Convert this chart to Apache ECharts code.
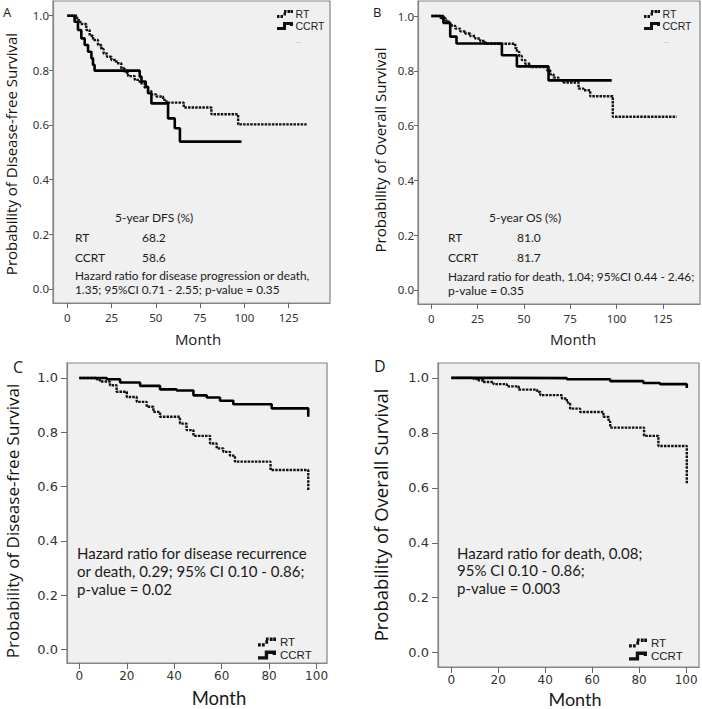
<!DOCTYPE html>
<html>
<head>
<meta charset="utf-8">
<script src="https://cdn.jsdelivr.net/npm/echarts@6/dist/echarts.min.js"></script>
<style>
html,body{margin:0;padding:0;background:#fff;}
#chart{width:702px;height:709px;}
</style>
</head>
<body>
<div id="chart"></div>
<script>
// ---------- data ----------
// Panel A: disease-free survival
const aRtTime  = [0, 5.5, 7.3, 10.7, 12.6, 14.5, 17.3, 19.2, 20.5, 22.4, 24.9, 27.7, 30.5, 32.4, 34.3, 38.1, 40.9, 43.7, 45.6, 47.5, 50.3, 54.1, 56, 65.8, 81.4, 96.5, 135.2];
const aRtSurv  = [1, 0.984, 0.970, 0.948, 0.927, 0.911, 0.893, 0.878, 0.862, 0.850, 0.838, 0.826, 0.807, 0.792, 0.779, 0.765, 0.753, 0.737, 0.724, 0.712, 0.704, 0.692, 0.682, 0.664, 0.639, 0.602, 0.602];
const aCcTime  = [0, 4.1, 6.0, 7.9, 9.8, 11.7, 13.6, 14.5, 15.4, 40.9, 41.9, 44.3, 45.6, 47.5, 56.9, 60.7, 63.6, 98.4];
const aCcSurv  = [1, 0.978, 0.948, 0.917, 0.893, 0.868, 0.844, 0.820, 0.799, 0.777, 0.759, 0.740, 0.716, 0.679, 0.624, 0.588, 0.539, 0.539];
// Panel B: overall survival
const bRtTime  = [0, 4.9, 7.6, 9.3, 11.1, 13.0, 15.6, 18.3, 21.0, 23.7, 26.4, 29.1, 45.3, 46.2, 47.5, 48.9, 50.7, 53.4, 62.4, 64.2, 66.0, 68.7, 71.4, 79.5, 82.2, 85.8, 98.0, 132.5];
const bRtSurv  = [1, 0.993, 0.984, 0.972, 0.964, 0.954, 0.944, 0.936, 0.927, 0.918, 0.909, 0.899, 0.883, 0.869, 0.854, 0.839, 0.826, 0.814, 0.802, 0.787, 0.775, 0.766, 0.757, 0.735, 0.729, 0.707, 0.632, 0.632];
const bCcTime  = [0, 6.5, 10.2, 13.6, 38.1, 46.2, 63.3, 97.4];
const bCcSurv  = [1, 0.975, 0.925, 0.9, 0.857, 0.816, 0.765, 0.765];
// Panel C: disease-free survival
const cRtTime  = [0, 7.3, 8.7, 12.9, 15.7, 20.0, 24.2, 28.4, 31.2, 34.0, 42.4, 45.2, 48.1, 55.1, 57.9, 60.7, 63.5, 65.6, 80.6, 96.5];
const cRtSurv  = [1, 0.995, 0.987, 0.973, 0.949, 0.930, 0.912, 0.894, 0.875, 0.857, 0.832, 0.808, 0.787, 0.759, 0.741, 0.728, 0.714, 0.692, 0.661, 0.588];
const cCcTime  = [0, 11.6, 17.2, 25.6, 34.0, 41.0, 48.1, 53.7, 59.3, 64.9, 81.1, 96.5];
const cCcSurv  = [1, 0.995, 0.983, 0.971, 0.958, 0.954, 0.936, 0.928, 0.916, 0.903, 0.888, 0.857];
// Panel D: overall survival
const dRtTime  = [0, 9.5, 10.9, 13.8, 18.0, 23.7, 28.7, 36.5, 37.9, 47.1, 49.2, 50.6, 54.9, 64.8, 67.0, 67.7, 82.1, 88.2, 100.3];
const dRtSurv  = [1, 0.996, 0.991, 0.985, 0.977, 0.969, 0.957, 0.949, 0.937, 0.925, 0.910, 0.888, 0.876, 0.858, 0.840, 0.819, 0.789, 0.752, 0.615];
const dCcTime  = [0, 23.7, 49.2, 67.7, 81.8, 88.9, 100.3];
const dCcSurv  = [1, 0.999, 0.995, 0.988, 0.981, 0.977, 0.963];

// tick labels
const xTicksAB = [0, 25, 50, 75, 100, 125];
const xTicksCD = [0, 20, 40, 60, 80, 100];
const yTicks   = [0, 0.2, 0.4, 0.6, 0.8, 1.0];
const groupNames = ['RT', 'CCRT'];

// ---------- chart ----------
const zip = (t, s) => t.map((v, i) => [v, s[i]]);
const chart = echarts.init(document.getElementById('chart'), null, {renderer: 'svg'});

const frameColor = '#858585';
const bg = '#f0f0f0';
const titleFont = 'Open Sans';
const noteFont = 'Lato';

const grids = [
  {left: 53, top: 1, width: 277, height: 302},
  {left: 418, top: 1, width: 282, height: 303},
  {left: 67, top: 363, width: 260, height: 300},
  {left: 438, top: 363, width: 261, height: 304}
].map(g => Object.assign({show: true, backgroundColor: bg, borderColor: frameColor, borderWidth: 1.2, containLabel: false, outerBoundsMode: 'none'}, g));

const xRanges = [[-8.1, 148.4], [-7.2, 145.1], [-5.2, 104.4], [-5.66, 105.5]];
const yRanges = [[-0.052, 1.054], [-0.052, 1.055], [-0.049, 1.055], [-0.052, 1.054]];

const xAxes = xRanges.map((r, i) => {
  const big = i >= 2;
  const ticks = big ? xTicksCD : xTicksAB;
  return {
    type: 'value', gridIndex: i, min: r[0], max: r[1],
    splitLine: {show: false},
    axisLine: {show: true, onZero: false, lineStyle: {color: frameColor, width: 1.2}},
    axisTick: {show: true, inside: false, length: big ? 6 : 5, customValues: ticks, lineStyle: {color: '#666'}},
    axisLabel: {customValues: ticks, margin: big ? 7 : 8, color: '#333',
      fontFamily: big ? 'DejaVu Sans' : 'Noto Sans', fontSize: big ? 12 : 11.5,
      showMinLabel: true, showMaxLabel: true}
  };
});
const yAxes = yRanges.map((r, i) => {
  const big = i >= 2;
  return {
    type: 'value', gridIndex: i, min: r[0], max: r[1],
    splitLine: {show: false},
    axisLine: {show: true, onZero: false, lineStyle: {color: frameColor, width: 1.2}},
    axisTick: {show: true, inside: false, length: big ? 6 : 4, customValues: yTicks, lineStyle: {color: '#666'}},
    axisLabel: {customValues: yTicks, margin: big ? 9 : 4, color: '#333',
      fontFamily: big ? 'DejaVu Sans' : 'Noto Sans', fontSize: big ? 13 : 11.5,
      formatter: v => v.toFixed(1), showMinLabel: true, showMaxLabel: true}
  };
});

const rtDash = [2.5, 1.1];
function km(name, idx, t, s, dotted) {
  return {
    name: name, type: 'line', xAxisIndex: idx, yAxisIndex: idx,
    data: zip(t, s), step: 'end', showSymbol: false, symbol: 'none', silent: true,
    color: '#111',
    lineStyle: dotted ? {color: '#111', width: 2.4, type: rtDash} : {color: '#000', width: 2.6, type: 'solid'},
    z: dotted ? 3 : 4
  };
}
const series = [
  km('RT', 0, aRtTime, aRtSurv, true),  km('CCRT', 0, aCcTime, aCcSurv, false),
  km('RT', 1, bRtTime, bRtSurv, true),  km('CCRT', 1, bCcTime, bCcSurv, false),
  km('RT', 2, cRtTime, cRtSurv, true),  km('CCRT', 2, cCcTime, cCcSurv, false),
  km('RT', 3, dRtTime, dRtSurv, true),  km('CCRT', 3, dCcTime, dCcSurv, false)
];

// legend icons: a solid step and a dotted step
const iconSolid = 'path://M0 5 L6 5 L6 0 L16 0 L16 4 L13 4 L13 3 L9 3 L9 8 L0 8 Z';
const iconDotted = 'path://M0 5h2.5v3h-2.5z M3.5 5h2.5v3h-2.5z M6.5 2.5h2.5v3h-2.5z M7 0h2.5v2.5h-2.5z M10.5 0h2.5v3h-2.5z M13.5 0h2.5v3h-2.5z';
function legend(left, top, big) {
  return {
    left: left, top: top, orient: 'vertical', padding: 0, itemGap: 0,
    itemWidth: big ? 22 : 17, itemHeight: big ? 9 : 8, selectedMode: false,
    itemStyle: {color: '#111', borderWidth: 0},
    textStyle: {fontFamily: 'Liberation Sans', fontSize: big ? 11.5 : 10.5, color: '#222', lineHeight: big ? 13 : 12, padding: [0, 0, 0, -3]},
    data: [{name: 'RT', icon: iconDotted}, {name: 'CCRT', icon: iconSolid}]
  };
}

function txt(x, y, text, size, opts) {
  return {
    type: 'text', x: x, y: y, silent: true,
    style: Object.assign({text: text, fontFamily: noteFont, fontSize: size, fill: '#1a1a1a', verticalAlign: 'middle', align: 'left'}, opts || {})
  };
}
function vtxt(x, y, text, size) {
  return {type: 'text', x: x, y: y, rotation: Math.PI / 2, silent: true,
    style: {text: text, fontFamily: titleFont, fontSize: size, fill: '#111', align: 'center', verticalAlign: 'middle'}};
}

const graphics = [
  // panel letters
  txt(3, 12, 'A', 13, {fontFamily: titleFont}),
  txt(373, 12, 'B', 13, {fontFamily: titleFont}),
  txt(13, 367, 'C', 16, {fontFamily: titleFont}),
  txt(374, 366, 'D', 16, {fontFamily: titleFont}),
  // axis titles
  vtxt(11, 154, 'Probability of Disease-free Survival', 15),
  vtxt(380, 150, 'Probability of Overall Survival', 15),
  vtxt(12, 521, 'Probability of Disease-free Survival', 17),
  vtxt(380, 515, 'Probability of Overall Survival', 18.5),
  txt(198, 339, 'Month', 15, {fontFamily: titleFont, align: 'center'}),
  txt(573, 339, 'Month', 15, {fontFamily: titleFont, align: 'center'}),
  txt(219, 697.5, 'Month', 18.5, {fontFamily: noteFont, align: 'center'}),
  txt(575, 698.5, 'Month', 18, {fontFamily: noteFont, align: 'center'}),
  // panel A notes
  txt(115, 217, '5-year DFS (%)', 12),
  txt(75, 237, 'RT', 12), txt(142, 237, '68.2', 12),
  txt(75, 257, 'CCRT', 12), txt(142, 257, '58.6', 12),
  txt(75, 275.5, 'Hazard ratio for disease progression or death,', 11.8),
  txt(75, 289.5, '1.35; 95%CI 0.71 - 2.55; p-value = 0.35', 11.8),
  txt(296, 40, '...', 7, {fill: '#aaa'}),
  // panel B notes
  txt(489, 217, '5-year OS (%)', 12),
  txt(448, 237, 'RT', 12), txt(517, 237, '81.0', 12),
  txt(448, 257, 'CCRT', 12), txt(517, 257, '81.7', 12),
  txt(448, 276, 'Hazard ratio for death, 1.04; 95%CI 0.44 - 2.46;', 11.8),
  txt(448, 290, 'p-value = 0.35', 12),
  txt(664, 40, '...', 7, {fill: '#aaa'}),
  // panel C notes
  txt(77, 553, 'Hazard ratio for disease recurrence', 15),
  txt(77, 571, 'or death, 0.29; 95% CI 0.10 - 0.86;', 15),
  txt(77, 589, 'p-value = 0.02', 15),
  // panel D notes
  txt(457, 553, 'Hazard ratio for death, 0.08;', 15),
  txt(457, 570, '95% CI 0.10 - 0.86;', 15),
  txt(457, 588, 'p-value = 0.003', 15)
];

chart.setOption({
  animation: false,
  backgroundColor: '#fff',
  grid: grids,
  xAxis: xAxes,
  yAxis: yAxes,
  legend: [legend(277, 8, false), legend(644, 8, false), legend(258, 635.5, true), legend(629, 636.5, true)],
  graphic: graphics,
  series: series
});
</script>
</body>
</html>
